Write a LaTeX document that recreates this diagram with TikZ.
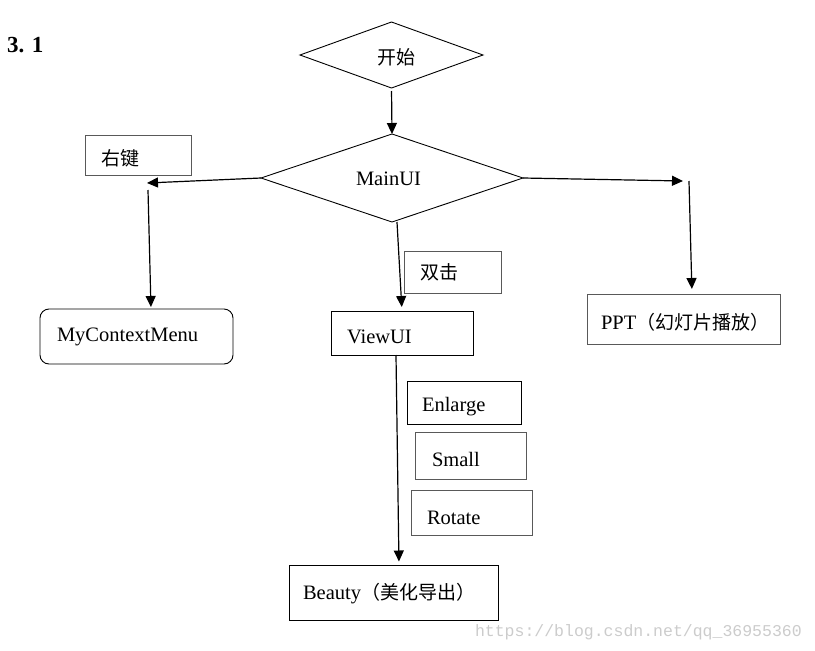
\documentclass[tikz,border=0pt]{standalone}
\usepackage{fontspec}
\setmainfont{Liberation Serif}
\newfontfamily\cjk{Noto Sans CJK SC}
\newfontfamily\wmfont{Liberation Mono}
\usetikzlibrary{arrows.meta,shapes.geometric}
\begin{document}
\begin{tikzpicture}[x=1pt,y=-1pt,
  every node/.style={inner sep=0pt,outer sep=0pt},
  lbl/.style={anchor=west,yshift=-2pt,font=\fontsize{20.5}{24}\selectfont},
  cjklbl/.style={anchor=west,font=\fontsize{19}{24}\selectfont\cjk},
  boxnode/.style={draw,line width=0.9pt,rectangle},
  graybox/.style={draw=black!65,line width=0.9pt,rectangle},
  dia/.style={draw,line width=0.9pt,diamond},
  arr/.style={line width=1.2pt,-{Triangle[length=11pt,width=10pt]}},
  plain/.style={line width=1.2pt}]
\useasboundingbox (0,0) rectangle (815,651);
\fill[white] (0,0) rectangle (815,651);

% title
\node[anchor=west,font=\fontsize{23}{26}\selectfont\bfseries] (title) at (7,45) {3. 1};

% diamonds
\node[dia,minimum width=183pt,minimum height=66pt] (start) at (391.5,55) {};
\node[cjklbl,anchor=center] (starttxt) at (396,57) {开始};
\node[dia,minimum width=262pt,minimum height=88pt] (main) at (392,178) {};
\node[lbl] (maintxt) at (356,177) {MainUI};

% boxes
\node[graybox,minimum width=106pt,minimum height=40pt] (rk) at (138,155) {};
\node[cjklbl] (rktxt) at (101,158) {右键};
\node[draw,line width=0.9pt,rounded corners=9pt,minimum width=193pt,minimum height=55pt] (menu) at (136.5,336.5) {};
\node[lbl] (menutxt) at (57,335) {MyContextMenu};
\node[graybox,minimum width=97pt,minimum height=42pt] (sj) at (452.5,272) {};
\node[cjklbl] (sjtxt) at (420,272) {双击};
\node[boxnode,minimum width=142pt,minimum height=44pt] (view) at (402,333) {};
\node[lbl] (viewtxt) at (347,335) {ViewUI};
\node[graybox,minimum width=193pt,minimum height=50pt] (ppt) at (683.5,319) {};
\node[lbl] (ppttxt) at (601,320) {PPT{\cjk\fontsize{19}{24}\selectfont（幻灯片播放）}};
\node[boxnode,minimum width=114pt,minimum height=43pt] (enl) at (464,403) {};
\node[lbl] (enltxt) at (422,405) {Enlarge};
\node[graybox,minimum width=111pt,minimum height=47pt] (sml) at (471,456) {};
\node[lbl] (smltxt) at (432,457) {Small};
\node[graybox,minimum width=121pt,minimum height=45pt] (rot) at (471.5,513) {};
\node[lbl] (rottxt) at (427,516) {Rotate};
\node[boxnode,minimum width=209pt,minimum height=55pt] (beauty) at (393.5,593) {};
\node[lbl] (beautytxt) at (303,592) {Beauty{\cjk\fontsize{19}{24}\selectfont（美化导出）}};

% free connector ends
\coordinate (l1) at (147,183);
\coordinate (l2) at (148,190);
\coordinate (r1) at (683,181);
\coordinate (r2) at (689,181);

% connectors
\draw[arr,shorten <=3pt] (start.south) -- (main.north);
\draw[arr] (main.west) -- (l1);
\draw[arr,shorten >=2pt] (l2) -- ([xshift=14.5pt]menu.north);
\draw[arr] (main.east) -- (r1);
\draw[arr,shorten >=5pt] (r2) -- ([xshift=8.5pt]ppt.north);
\draw[arr,shorten >=4pt] ([xshift=5pt]main.south) -- (view.north);
\draw[arr,shorten >=4pt] ([xshift=-6pt]view.south) -- ([xshift=5.5pt]beauty.north);

% watermark
\node[anchor=west,font=\fontsize{16.5}{20}\selectfont\wmfont,text=black!20] (wm) at (475,632) {https://blog.csdn.net/qq\_36955360};
\end{tikzpicture}
\end{document}
